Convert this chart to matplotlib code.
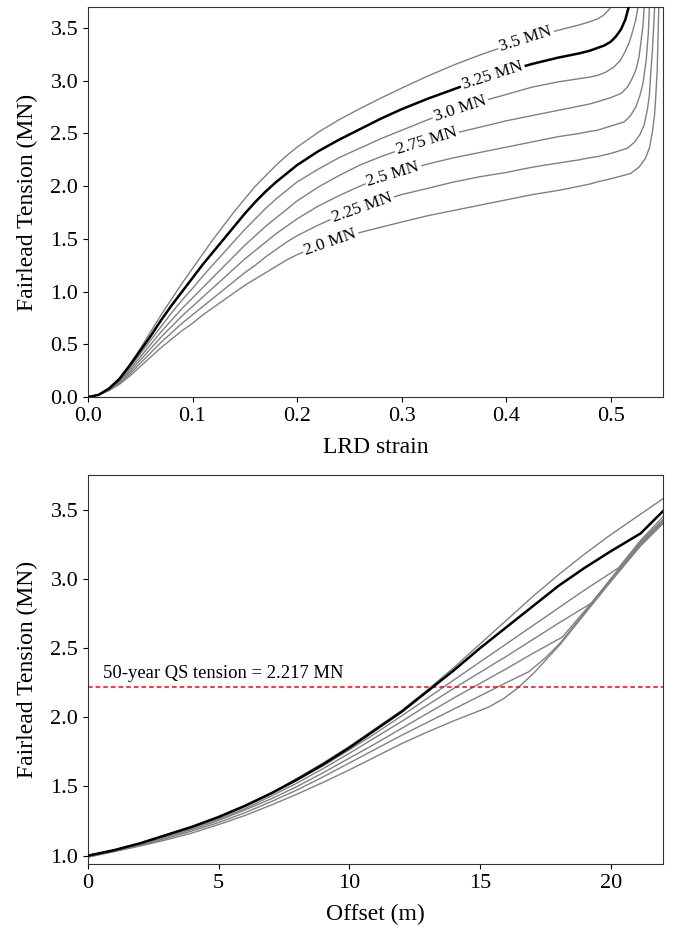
import numpy as np
import matplotlib
matplotlib.use('Agg')
import matplotlib.pyplot as plt

plt.rcParams['font.family'] = ['Liberation Serif', 'DejaVu Serif']

# ---- top panel: fairlead tension vs LRD strain, one curve per rated tension
labels_mn = ['2.0 MN', '2.25 MN', '2.5 MN', '2.75 MN', '3.0 MN', '3.25 MN', '3.5 MN']
base_strain = [0, .01, .02, .03, .04, .05, .06, .07, .08, .09, .1, .11, .12, .13, .14, .15, .16,
               .17, .18, .19, .2, .22, .24, .26, .28, .3, .325, .35, .375, .4, .425, .45, .47]
t_200 = [0, .02, .06, .12, .20, .29, .38, .47, .55, .63, .70, .78, .85, .92, .99, 1.06, 1.12,
         1.18, 1.24, 1.30, 1.35, 1.43, 1.50, 1.56, 1.61, 1.66, 1.72, 1.77, 1.82, 1.87, 1.92, 1.96, 2.00]
t_225 = [0, .02, .065, .13, .22, .32, .42, .52, .61, .70, .78, .86, .94, 1.02, 1.10, 1.18, 1.25,
         1.33, 1.40, 1.47, 1.53, 1.63, 1.72, 1.79, 1.86, 1.92, 1.98, 2.04, 2.09, 2.13, 2.18, 2.22, 2.25]
t_250 = [0, .02, .07, .14, .24, .35, .46, .57, .67, .77, .86, .95, 1.04, 1.13, 1.22, 1.31, 1.39,
         1.47, 1.55, 1.62, 1.69, 1.81, 1.91, 2.00, 2.08, 2.14, 2.21, 2.27, 2.32, 2.37, 2.42, 2.47, 2.50]
t_275 = [0, .02, .07, .15, .26, .38, .50, .62, .73, .84, .94, 1.04, 1.14, 1.24, 1.34, 1.44, 1.53,
         1.62, 1.70, 1.78, 1.86, 1.99, 2.10, 2.20, 2.28, 2.35, 2.43, 2.50, 2.56, 2.62, 2.67, 2.72, 2.76]
t_300 = [0, .02, .075, .16, .28, .41, .54, .67, .80, .92, 1.03, 1.15, 1.26, 1.37, 1.48, 1.59, 1.69,
         1.79, 1.88, 1.96, 2.04, 2.16, 2.27, 2.36, 2.45, 2.53, 2.63, 2.72, 2.80, 2.87, 2.94, 2.99, 3.02]
t_325 = [0, .02, .08, .17, .30, .44, .58, .73, .87, 1.00, 1.13, 1.26, 1.38, 1.50, 1.62, 1.74, 1.85,
         1.95, 2.04, 2.12, 2.20, 2.33, 2.44, 2.54, 2.64, 2.73, 2.83, 2.92, 3.01, 3.09, 3.16, 3.22, 3.26]
t_350 = [0, .02, .08, .18, .31, .46, .62, .78, .93, 1.08, 1.22, 1.36, 1.50, 1.63, 1.76, 1.88, 2.00,
         2.10, 2.20, 2.29, 2.37, 2.51, 2.63, 2.735, 2.835, 2.93, 3.045, 3.15, 3.245, 3.33, 3.41, 3.48, 3.53]
base_tension = [t_200, t_225, t_250, t_275, t_300, t_325, t_350]

# lock-up tails (strain, tension) after the knee
tail_strain = [
    [.48, .487, .5, .519, .527, .533, .537, .540, .542, .543, .5445, .546, .547],
    [.48, .487, .5, .516, .523, .528, .532, .535, .537, .538, .540, .542, .543],
    [.48, .487, .5, .513, .519, .524, .528, .531, .534, .536, .537, .538],
    [.48, .487, .5, .51, .516, .52, .524, .527, .529, .531, .532, .533],
    [.48, .487, .495, .503, .509, .514, .518, .521, .524, .526, .528],
    [.48, .487, .494, .5, .505, .51, .514, .517, .519],
    [.48, .487, .493, .498, .502],
]
tail_tension = [
    [2.02, 2.04, 2.07, 2.12, 2.18, 2.26, 2.36, 2.52, 2.68, 2.83, 3.10, 3.69, 3.80],
    [2.27, 2.28, 2.31, 2.36, 2.42, 2.49, 2.58, 2.72, 2.86, 3.02, 3.30, 3.69, 3.80],
    [2.52, 2.53, 2.57, 2.61, 2.67, 2.75, 2.86, 2.98, 3.20, 3.45, 3.69, 3.80],
    [2.78, 2.80, 2.84, 2.88, 2.94, 3.01, 3.10, 3.22, 3.37, 3.53, 3.69, 3.80],
    [3.035, 3.05, 3.08, 3.13, 3.19, 3.28, 3.37, 3.47, 3.58, 3.69, 3.80],
    [3.285, 3.31, 3.335, 3.37, 3.42, 3.49, 3.58, 3.69, 3.76],
    [3.56, 3.585, 3.62, 3.67, 3.72],
]
label_strain = [0.232, 0.262, 0.292, 0.324, 0.356, 0.387, 0.419]

# ---- bottom panel: fairlead tension vs platform offset
off_200 = [0, 1, 2, 3, 4, 5, 6, 7, 8, 9, 10, 11, 12, 13, 14, 15.34, 15.9, 16.43, 17.06, 18.08, 19.1, 20.13, 21.15, 22]
off_225 = [0, 1, 2, 3, 4, 5, 6, 7, 8, 9, 10, 11, 12, 13, 14, 15, 16, 16.87, 17.5, 18.08, 19.1, 20.13, 21.15, 22]
off_250 = [0, 1, 2, 3, 4, 5, 6, 7, 8, 9, 10, 11, 12, 13, 14, 15, 16, 17, 18.15, 19.1, 20.13, 21.15, 22]
off_275 = [0, 1, 2, 3, 4, 5, 6, 7, 8, 9, 10, 11, 12, 13, 14, 15, 16, 17, 18, 19.3, 20.13, 21.15, 22]
off_300 = [0, 1, 2, 3, 4, 5, 6, 7, 8, 9, 10, 11, 12, 13, 14, 15, 16, 17, 18, 19, 20.3, 21.15, 22]
off_325 = [0, 1, 2, 3, 4, 5, 6, 7, 8, 9, 10, 11, 12, 13, 14, 15, 16, 17, 18, 19, 20, 21.15, 22]
off_350 = [0, 1, 2, 3, 4, 5, 6, 7, 8, 9, 10, 11, 12, 13, 14, 15, 16, 17, 18, 19, 20, 21, 22]
ten_200 = [.99, 1.03, 1.07, 1.115, 1.165, 1.225, 1.29, 1.365, 1.445, 1.53, 1.62, 1.715, 1.81, 1.895,
           1.975, 2.075, 2.135, 2.21, 2.32, 2.53, 2.77, 3.01, 3.24, 3.40]
ten_225 = [.99, 1.03, 1.075, 1.125, 1.18, 1.24, 1.31, 1.39, 1.475, 1.57, 1.67, 1.77, 1.87, 1.965,
           2.06, 2.155, 2.25, 2.33, 2.43, 2.54, 2.78, 3.02, 3.25, 3.41]
ten_250 = [.995, 1.035, 1.08, 1.135, 1.19, 1.255, 1.33, 1.41, 1.50, 1.60, 1.705, 1.81, 1.92, 2.03,
           2.14, 2.245, 2.35, 2.46, 2.58, 2.79, 3.03, 3.26, 3.42]
ten_275 = [1.0, 1.04, 1.085, 1.14, 1.20, 1.265, 1.34, 1.43, 1.525, 1.63, 1.74, 1.855, 1.97, 2.09,
           2.21, 2.325, 2.44, 2.56, 2.68, 2.83, 3.03, 3.27, 3.43]
ten_300 = [1.0, 1.04, 1.09, 1.145, 1.205, 1.275, 1.355, 1.445, 1.545, 1.65, 1.765, 1.885, 2.01, 2.14,
           2.27, 2.40, 2.53, 2.66, 2.79, 2.92, 3.08, 3.28, 3.45]
ten_325 = [1.0, 1.04, 1.09, 1.15, 1.21, 1.28, 1.36, 1.45, 1.55, 1.66, 1.78, 1.91, 2.04, 2.19,
           2.34, 2.50, 2.65, 2.80, 2.95, 3.08, 3.20, 3.33, 3.49]
ten_350 = [1.0, 1.04, 1.09, 1.15, 1.21, 1.28, 1.36, 1.45, 1.56, 1.67, 1.79, 1.92, 2.05, 2.20,
           2.36, 2.53, 2.70, 2.87, 3.03, 3.18, 3.32, 3.45, 3.58]
offset_pts = [off_200, off_225, off_250, off_275, off_300, off_325, off_350]
offset_tension = [ten_200, ten_225, ten_250, ten_275, ten_300, ten_325, ten_350]
qs_tension = 2.217

bold_idx = 5  # 3.25 MN curve drawn in black

fig = plt.figure(figsize=(6.74, 9.3), dpi=100)
ax1 = fig.add_axes([0.1306, 0.5731, 0.853, 0.4194])
ax2 = fig.add_axes([0.1306, 0.071, 0.853, 0.418])

ax1.set_xlim(0, 0.55)
ax1.set_ylim(0, 3.7)
for i in range(len(labels_mn)):
    xs = np.array(base_strain + tail_strain[i])
    ys = np.array(base_tension[i] + tail_tension[i])
    if i == bold_idx:
        ax1.plot(xs, ys, color='black', lw=1.8, zorder=3)
    else:
        ax1.plot(xs, ys, color='gray', lw=1.0, zorder=2)
    # inline label, rotated along the curve
    lx = label_strain[i]
    ly = np.interp(lx, xs, ys)
    p1 = ax1.transData.transform((lx - 0.01, np.interp(lx - 0.01, xs, ys)))
    p2 = ax1.transData.transform((lx + 0.01, np.interp(lx + 0.01, xs, ys)))
    ang = np.degrees(np.arctan2(p2[1] - p1[1], p2[0] - p1[0]))
    ax1.text(lx, ly, labels_mn[i], rotation=ang, rotation_mode='anchor',
             ha='center', va='center', fontsize=12.5, zorder=4,
             bbox=dict(facecolor='white', edgecolor='none', pad=1.5))

ax1.set_xticks([0.0, 0.1, 0.2, 0.3, 0.4, 0.5])
ax1.set_yticks(np.arange(0, 3.6, 0.5))
ax1.set_xlabel('LRD strain', fontsize=17, labelpad=8)
ax1.set_ylabel('Fairlead Tension (MN)', fontsize=17, labelpad=9)

ax2.set_xlim(0, 22)
ax2.set_ylim(0.94, 3.75)
for i in range(len(labels_mn)):
    if i == bold_idx:
        ax2.plot(offset_pts[i], offset_tension[i], color='black', lw=1.8, zorder=3)
    else:
        ax2.plot(offset_pts[i], offset_tension[i], color='gray', lw=1.0, zorder=2)
ax2.axhline(qs_tension, color='red', lw=1.1, linestyle=(0, (3, 2)))
ax2.text(0.57, qs_tension + 0.1, '50-year QS tension = %.3f MN' % qs_tension,
         fontsize=13.4, va='center', ha='left')
ax2.set_xticks([0, 5, 10, 15, 20])
ax2.set_yticks(np.arange(1.0, 3.6, 0.5))
ax2.set_yticklabels(['%.1f' % v for v in np.arange(1.0, 3.6, 0.5)])
ax2.set_xlabel('Offset (m)', fontsize=17, labelpad=8)
ax2.set_ylabel('Fairlead Tension (MN)', fontsize=17, labelpad=9)

for ax in (ax1, ax2):
    ax.tick_params(labelsize=16)
    for sp in ax.spines.values():
        sp.set_color('#333333')

fig.savefig('out.png', dpi=100)
